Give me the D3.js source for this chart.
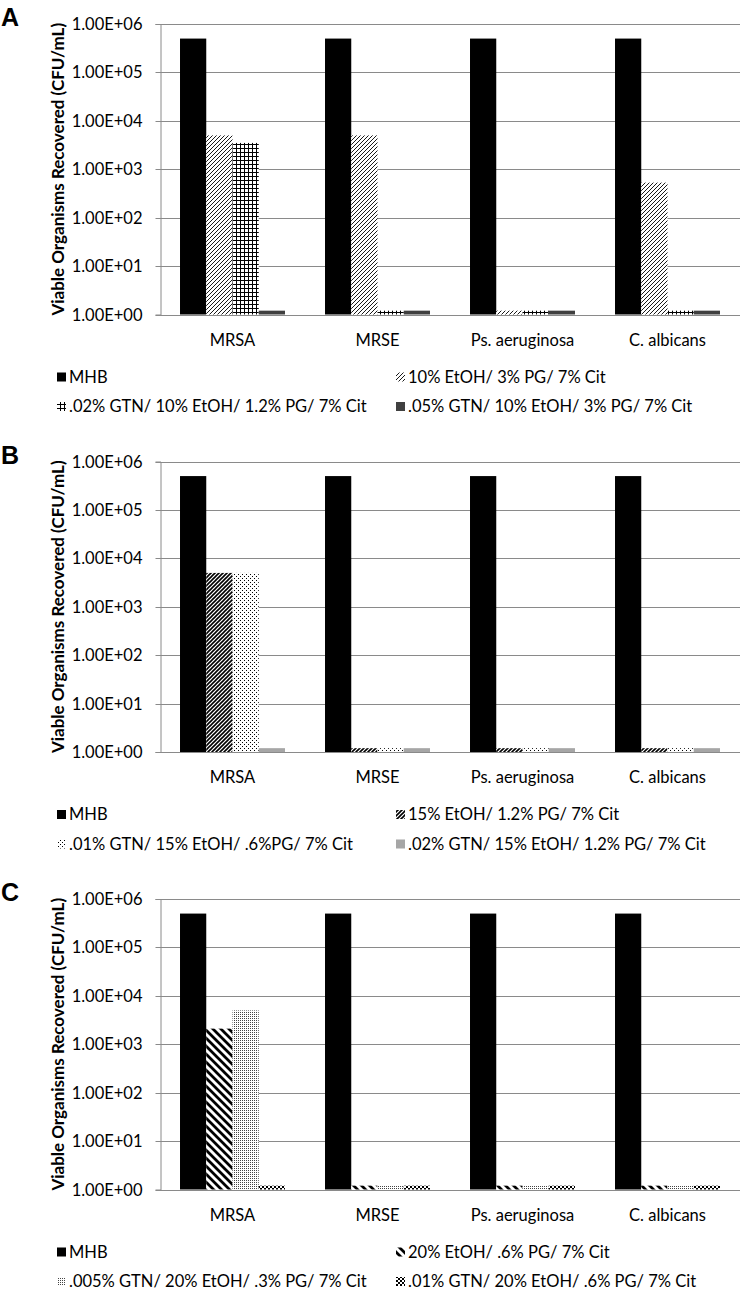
<!DOCTYPE html>
<html>
<head>
<meta charset="utf-8">
<script src="https://cdn.jsdelivr.net/npm/d3@7"></script>
<style>
  html, body { margin: 0; padding: 0; background: #fff; }
  svg { display: block; }
  text { font-family: Lato, "Open Sans", sans-serif; fill: #000; }
</style>
</head>
<body>
<svg id="chart" width="742" height="1291"></svg>
<script>
// ---------- DATA ----------
const categories = ["MRSA", "MRSE", "Ps. aeruginosa", "C. albicans"];
const panelLetters = ["A", "B", "C"];
const yTickValues = [1, 10, 100, 1000, 10000, 100000, 1000000];
const yTickLabels = ["1.00E+00", "1.00E+01", "1.00E+02", "1.00E+03", "1.00E+04", "1.00E+05", "1.00E+06"];
const yAxisTitle = "Viable Organisms Recovered (CFU/mL)";

const seriesNamesA = ["MHB", "10% EtOH/ 3% PG/ 7% Cit", ".02% GTN/ 10% EtOH/ 1.2% PG/ 7% Cit", ".05% GTN/ 10% EtOH/ 3% PG/ 7% Cit"];
const valuesA = [
  [5e5, 5e5, 5e5, 5e5],
  [5e3, 5e3, 1.2, 5.3e2],
  [3.5e3, 1.2, 1.2, 1.2],
  [1.2, 1.2, 1.2, 1.2]
];

const seriesNamesB = ["MHB", "15% EtOH/ 1.2% PG/ 7% Cit", ".01% GTN/ 15% EtOH/ .6%PG/ 7% Cit", ".02% GTN/ 15% EtOH/ 1.2% PG/ 7% Cit"];
const valuesB = [
  [5e5, 5e5, 5e5, 5e5],
  [5e3, 1.2, 1.2, 1.2],
  [5e3, 1.2, 1.2, 1.2],
  [1.2, 1.2, 1.2, 1.2]
];

const seriesNamesC = ["MHB", "20% EtOH/ .6% PG/ 7% Cit", ".005% GTN/ 20% EtOH/ .3% PG/ 7% Cit", ".01% GTN/ 20% EtOH/ .6% PG/ 7% Cit"];
const valuesC = [
  [5e5, 5e5, 5e5, 5e5],
  [2.1e3, 1.2, 1.2, 1.2],
  [5e3, 1.2, 1.2, 1.2],
  [1.2, 1.2, 1.2, 1.2]
];

// fill ids per panel / series (styles, not data)
const fillsA = ["#000", "url(#pLtUp)", "url(#pGrid)", "#404040"];
const fillsB = ["#000", "url(#pDkUp)", "url(#pDots)", "#a6a6a6"];
const fillsC = ["#000", "url(#pWdDown)", "url(#pFine)", "url(#pCheck)"];

// ---------- LAYOUT ----------
const plotLeft = 160, plotRight = 740;
const plotTops = [24, 461.5, 899];
const plotH = 290.5;
const gridColor = "#8a8a8a";
const fs = "16.5px";

const svg = d3.select("#chart");
const defs = svg.append("defs");

function pat(id, w, h) {
  return defs.append("pattern").attr("id", id).attr("patternUnits", "userSpaceOnUse")
    .attr("width", w).attr("height", h);
}
let p = pat("pLtUp", 4, 4);
p.append("rect").attr("width", 4).attr("height", 4).attr("fill", "#fff");
p.append("path").attr("d", "M-1,1 L1,-1 M0,4 L4,0 M3,5 L5,3").attr("stroke", "#000").attr("stroke-width", 0.9);
p = pat("pGrid", 4, 4);
p.append("rect").attr("width", 4).attr("height", 4).attr("fill", "#fff");
p.append("path").attr("d", "M0,0.5 H4 M0.5,0 V4").attr("stroke", "#000").attr("stroke-width", 1);
p = pat("pDkUp", 4, 4);
p.append("rect").attr("width", 4).attr("height", 4).attr("fill", "#fff");
p.append("path").attr("d", "M-1,1 L1,-1 M0,4 L4,0 M3,5 L5,3").attr("stroke", "#000").attr("stroke-width", 1.6);
p = pat("pDots", 4, 4);
p.append("rect").attr("width", 4).attr("height", 4).attr("fill", "#fff");
p.append("rect").attr("x", 0).attr("y", 0).attr("width", 1).attr("height", 1).attr("fill", "#000");
p.append("rect").attr("x", 2).attr("y", 2).attr("width", 1).attr("height", 1).attr("fill", "#000");
p = pat("pWdDown", 8, 8);
p.append("rect").attr("width", 8).attr("height", 8).attr("fill", "#fff");
p.append("path").attr("d", "M-2,-2 L10,10 M-2,6 L2,10 M6,-2 L10,2").attr("stroke", "#000").attr("stroke-width", 2.8);
p = pat("pFine", 2, 2);
p.append("rect").attr("width", 2).attr("height", 2).attr("fill", "#fff");
p.append("rect").attr("x", 0).attr("y", 0).attr("width", 1).attr("height", 1).attr("fill", "#444");
p = pat("pCheck", 4, 4);
p.append("rect").attr("width", 4).attr("height", 4).attr("fill", "#fff");
p.append("rect").attr("x", 0).attr("y", 0).attr("width", 2).attr("height", 2).attr("fill", "#000");
p.append("rect").attr("x", 2).attr("y", 2).attr("width", 2).attr("height", 2).attr("fill", "#000");

const panels = [
  { letter: panelLetters[0], names: seriesNamesA, values: valuesA, fills: fillsA },
  { letter: panelLetters[1], names: seriesNamesB, values: valuesB, fills: fillsB },
  { letter: panelLetters[2], names: seriesNamesC, values: valuesC, fills: fillsC }
];

const x0 = d3.scaleBand().domain(categories).range([plotLeft, plotRight])
  .paddingInner(0.276).paddingOuter(0.138);
const x1 = d3.scaleBand().domain(d3.range(4)).range([0, x0.bandwidth()]);

panels.forEach((pn, i) => {
  const top = plotTops[i];
  const bottom = top + plotH;
  const g = svg.append("g");
  const y = d3.scaleLog().domain([1, 1e6]).range([bottom, top]);

  g.append("g").selectAll("line").data(yTickValues).join("line")
    .attr("x1", plotLeft).attr("x2", plotRight)
    .attr("y1", d => Math.round(y(d)) + 0.5).attr("y2", d => Math.round(y(d)) + 0.5)
    .attr("stroke", gridColor).attr("stroke-width", 1);

  const ax = g.append("g").attr("transform", `translate(${plotLeft + 0.5},0)`)
    .call(d3.axisLeft(y).tickValues(yTickValues).tickSize(5).tickPadding(13)
      .tickFormat((d, k) => yTickLabels[k]));
  ax.select(".domain").attr("stroke", gridColor);
  ax.selectAll(".tick line").attr("stroke", gridColor);
  ax.selectAll(".tick").attr("transform", d => `translate(0,${Math.round(y(d)) + 0.5})`);
  ax.selectAll(".tick text").style("font-family", "Lato, sans-serif").style("font-size", fs).attr("fill", "#000");

  pn.values.forEach((ser, s) => {
    g.append("g").selectAll("rect").data(ser).join("rect")
      .attr("x", (d, c) => x0(categories[c]) + x1(s))
      .attr("width", x1.bandwidth())
      .attr("y", d => y(d))
      .attr("height", d => bottom - y(d))
      .attr("fill", pn.fills[s]);
  });

  g.append("g").selectAll("text").data(categories).join("text")
    .attr("x", d => x0(d) + x0.bandwidth() / 2)
    .attr("y", bottom + 31)
    .attr("text-anchor", "middle")
    .style("font-size", fs)
    .text(d => d);

  g.append("text")
    .attr("transform", `translate(64,${(top + bottom) / 2}) rotate(-90)`)
    .attr("text-anchor", "middle")
    .style("font-size", "17px").style("font-weight", "bold")
    .text(yAxisTitle);

  g.append("text").attr("x", 1).attr("y", top + 2)
    .style("font-family", "'Liberation Sans', Arial, sans-serif")
    .style("font-size", "25px").style("font-weight", "bold")
    .text(pn.letter);

  const legX = [57, 396];
  const legY = [bottom + 68, bottom + 97.5];
  pn.names.forEach((nm, s) => {
    const lx = legX[s % 2], ly = legY[Math.floor(s / 2)];
    g.append("rect").attr("x", lx).attr("y", ly - 10).attr("width", 9).attr("height", 9)
      .attr("fill", pn.fills[s]);
    g.append("text").attr("x", lx + 12).attr("y", ly)
      .style("font-size", fs).text(nm);
  });
});
</script>
</body>
</html>
